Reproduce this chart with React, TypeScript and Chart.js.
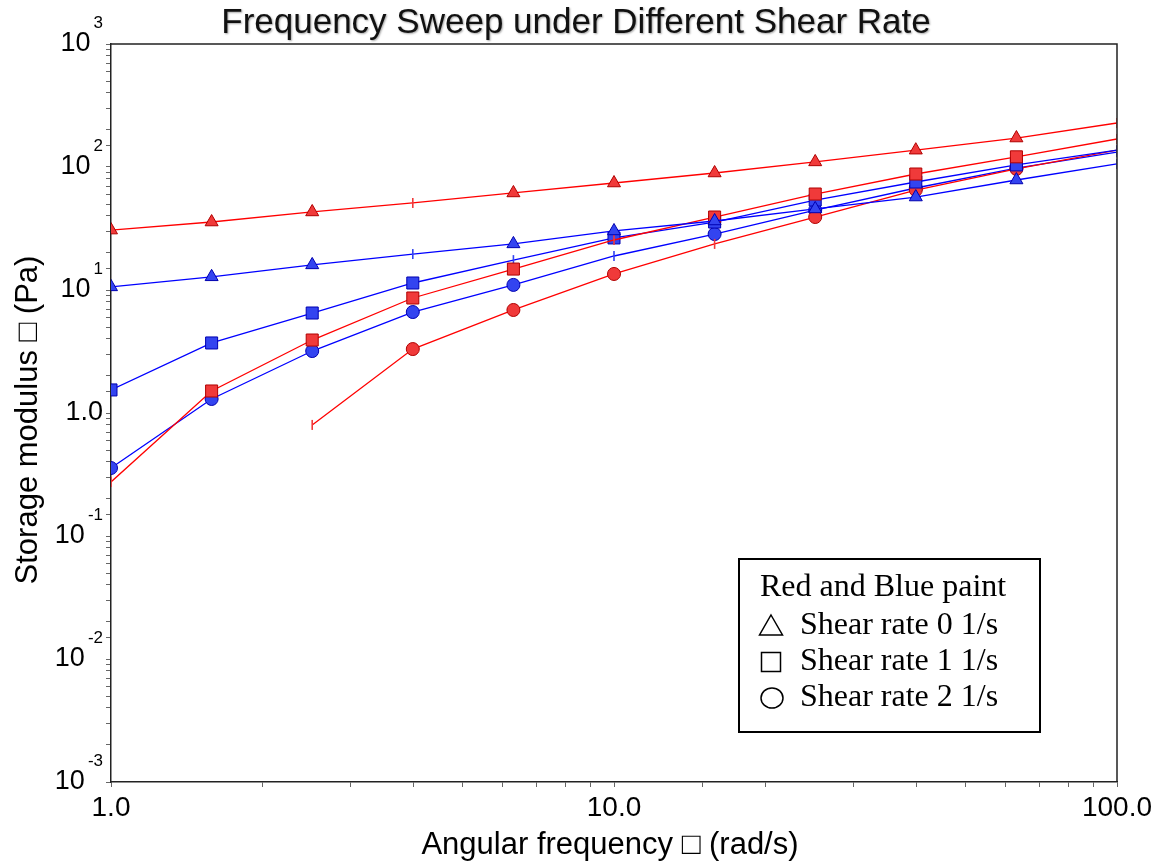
import React, { useEffect, useRef } from 'react';
import { Chart, registerables } from 'chart.js';

Chart.register(...registerables);

// ---------- data ----------
const frequencies = [1.0, 1.585, 2.512, 3.981, 6.31, 10.0, 15.85, 25.12, 39.81, 63.1, 100.0];

const redShear0 = [30.7, 35.7, 43.1, 51.0, 61.5, 74.1, 89.4, 110, 137, 172, 228];
const blueShear0 = [10.6, 12.8, 16.0, 19.6, 23.7, 30.2, 36.4, 45.6, 57.0, 78.4, 106];
const redShear1 = [0.275, 1.51, 3.92, 8.61, 14.8, 25.5, 39.2, 60.3, 87.7, 121, 169];
const blueShear1 = [1.54, 3.71, 6.5, 11.4, 17.5, 26.5, 35.7, 53.9, 75.5, 104, 137];
const redShear2 = [null, null, 0.8, 3.31, 6.88, 13.5, 23.7, 39.2, 65.0, 96.4, 137];
const blueShear2 = [0.357, 1.3, 3.19, 6.62, 11.0, 18.9, 28.5, 44.7, 67.5, 98, 132];

// indices of points drawn with the small tick-like marker
const redShear0Ticks = [3, 10];
const blueShear0Ticks = [3, 10];
const redShear1Ticks = [0, 5, 10];
const blueShear1Ticks = [4, 10];
const redShear2Ticks = [2, 6, 10];
const blueShear2Ticks = [5, 10];

const xTickValues = [1, 10, 100];
const xTickLabels = ['1.0', '10.0', '100.0'];

const yTickValues = [1000, 100, 10, 1, 0.1, 0.01, 0.001];
const yTickBases = ['10', '10', '10', '1.0', '10', '10', '10'];
const yTickExps = ['3', '2', '1', '', '-1', '-2', '-3'];

const chartTitle = 'Frequency Sweep under Different Shear Rate';
const xTitle = 'Angular frequency \u25A1 (rad/s)';
const yTitle = 'Storage modulus \u25A1 (Pa)';

const legendTitle = 'Red and Blue paint';
const legendLabels = ['Shear rate 0 1/s', 'Shear rate 1 1/s', 'Shear rate 2 1/s'];
const legendSymbols = ['triangle', 'rect', 'circle'];

// ---------- styles ----------
const SANS = '"Liberation Sans", Arial, Helvetica, sans-serif';
const SERIF = '"Liberation Serif", "Times New Roman", Times, serif';
const RED = '#ff0000';
const BLUE = '#0000ff';

function makeDataset(label, values, color, fill, edge, style, radius, ticks) {
  return {
    label,
    data: frequencies.map((f, i) => ({ x: f, y: values[i] })),
    borderColor: color,
    borderWidth: 1.3,
    backgroundColor: fill,
    fill: false,
    tension: 0,
    spanGaps: false,
    pointStyle: (c) => (ticks.includes(c.dataIndex) ? 'line' : style),
    pointRotation: (c) => (ticks.includes(c.dataIndex) ? 90 : 0),
    pointRadius: (c) => (ticks.includes(c.dataIndex) ? 5 : radius),
    pointBackgroundColor: fill,
    pointBorderColor: (c) => (ticks.includes(c.dataIndex) ? fill : edge),
    pointBorderWidth: (c) => (ticks.includes(c.dataIndex) ? 1.6 : 1),
    pointHoverRadius: radius,
  };
}

const decorPlugin = {
  id: 'decor',
  afterDraw(chart) {
    const ctx = chart.ctx;
    const { left, right, top, bottom } = chart.chartArea;
    ctx.save();

    // top and right frame lines
    ctx.strokeStyle = '#222';
    ctx.lineWidth = 1.5;
    ctx.beginPath();
    ctx.moveTo(left, top);
    ctx.lineTo(right, top);
    ctx.lineTo(right, bottom);
    ctx.stroke();

    // title
    ctx.save();
    ctx.font = `35px ${SANS}`;
    ctx.textAlign = 'center';
    ctx.textBaseline = 'middle';
    ctx.fillStyle = '#111';
    ctx.shadowColor = 'rgba(0,0,0,0.35)';
    ctx.shadowOffsetX = 1;
    ctx.shadowOffsetY = 1;
    ctx.shadowBlur = 2;
    ctx.fillText(chartTitle, 576, 23);
    ctx.restore();

    // y tick labels with superscript exponents
    const ys = chart.scales.y;
    const labelRight = left - 8;
    ctx.fillStyle = '#000';
    ctx.textAlign = 'right';
    ctx.textBaseline = 'middle';
    yTickValues.forEach((v, i) => {
      const py = ys.getPixelForValue(v);
      const exp = yTickExps[i];
      if (exp) {
        ctx.font = `17px ${SANS}`;
        ctx.fillText(exp, labelRight, py - 21);
        const w = ctx.measureText(exp).width;
        ctx.font = `27px ${SANS}`;
        ctx.fillText(yTickBases[i], labelRight - w - 3, py);
      } else {
        ctx.font = `27px ${SANS}`;
        ctx.fillText(yTickBases[i], labelRight, py);
      }
    });

    // axis titles
    ctx.font = `31px ${SANS}`;
    ctx.textAlign = 'center';
    ctx.textBaseline = 'middle';
    ctx.fillText(xTitle, 610, 845);
    ctx.save();
    ctx.translate(28, 420);
    ctx.rotate(-Math.PI / 2);
    ctx.fillText(yTitle, 0, 0);
    ctx.restore();

    // legend box
    const bx = 739, by = 559, bw = 301, bh = 173;
    ctx.fillStyle = '#fff';
    ctx.fillRect(bx, by, bw, bh);
    ctx.strokeStyle = '#000';
    ctx.lineWidth = 2;
    ctx.strokeRect(bx, by, bw, bh);
    ctx.fillStyle = '#000';
    ctx.font = `32px ${SERIF}`;
    ctx.textAlign = 'left';
    ctx.textBaseline = 'middle';
    ctx.fillText(legendTitle, 760, 588);
    legendLabels.forEach((lab, i) => {
      const cy = 626 + i * 36;
      const cx = 771;
      ctx.lineWidth = 1.5;
      ctx.strokeStyle = '#000';
      ctx.beginPath();
      if (legendSymbols[i] === 'triangle') {
        ctx.moveTo(cx, cy - 11);
        ctx.lineTo(cx + 11.5, cy + 9);
        ctx.lineTo(cx - 11.5, cy + 9);
        ctx.closePath();
      } else if (legendSymbols[i] === 'rect') {
        ctx.rect(cx - 9.5, cy - 9.5, 19, 19);
      } else {
        ctx.ellipse(cx + 1, cy, 11, 10, 0, 0, Math.PI * 2);
      }
      ctx.stroke();
      ctx.fillText(lab, 800, cy);
    });

    ctx.restore();
  },
};

export default function App() {
  const canvasRef = useRef(null);

  useEffect(() => {
    const canvas = canvasRef.current;
    if (!canvas) return;

    const datasets = [
      makeDataset('Red, shear rate 0', redShear0, RED, '#f03a3a', '#b00000', 'triangle', 7.5, redShear0Ticks),
      makeDataset('Blue, shear rate 0', blueShear0, BLUE, '#3344f0', '#0000b0', 'triangle', 7.5, blueShear0Ticks),
      makeDataset('Red, shear rate 1', redShear1, RED, '#f03a3a', '#b00000', 'rect', 8.5, redShear1Ticks),
      makeDataset('Blue, shear rate 1', blueShear1, BLUE, '#3344f0', '#0000b0', 'rect', 8.5, blueShear1Ticks),
      makeDataset('Red, shear rate 2', redShear2, RED, '#f03a3a', '#b00000', 'circle', 6.5, redShear2Ticks),
      makeDataset('Blue, shear rate 2', blueShear2, BLUE, '#3344f0', '#0000b0', 'circle', 6.5, blueShear2Ticks),
    ];

    const chart = new Chart(canvas, {
      type: 'line',
      data: { datasets },
      plugins: [decorPlugin],
      options: {
        animation: false,
        responsive: false,
        maintainAspectRatio: false,
        layout: { padding: { top: 44, right: 44, bottom: 0, left: 0 } },
        plugins: {
          legend: { display: false },
          tooltip: { enabled: false },
          title: { display: false },
        },
        scales: {
          x: {
            type: 'logarithmic',
            position: 'bottom',
            min: 1,
            max: 100,
            border: { display: true, color: '#222', width: 1.5 },
            grid: { display: true, drawOnChartArea: false, drawTicks: true, tickLength: 5, color: '#666' },
            ticks: {
              autoSkip: false,
              maxRotation: 0,
              minRotation: 0,
              padding: 4,
              color: '#000',
              font: { family: SANS, size: 28 },
              callback: (value) => {
                const v = Number(value);
                const k = xTickValues.findIndex((t) => Math.abs(t - v) < t * 1e-6);
                return k >= 0 ? xTickLabels[k] : '';
              },
            },
            afterFit: (scale) => {
              scale.height = 79;
            },
          },
          y: {
            type: 'logarithmic',
            position: 'left',
            min: 0.001,
            max: 1000,
            border: { display: true, color: '#222', width: 1.5 },
            grid: { display: true, drawOnChartArea: false, drawTicks: true, tickLength: 5, color: '#666' },
            ticks: {
              autoSkip: false,
              callback: () => '',
            },
            afterFit: (scale) => {
              scale.width = 111;
            },
          },
        },
      },
    });

    return () => {
      chart.destroy();
    };
  }, []);

  return (
    <div style={{ position: 'absolute', left: 0, top: 0, width: 1161, height: 861, background: '#fff' }}>
      <canvas ref={canvasRef} width={1161} height={861} style={{ display: 'block' }} />
    </div>
  );
}
